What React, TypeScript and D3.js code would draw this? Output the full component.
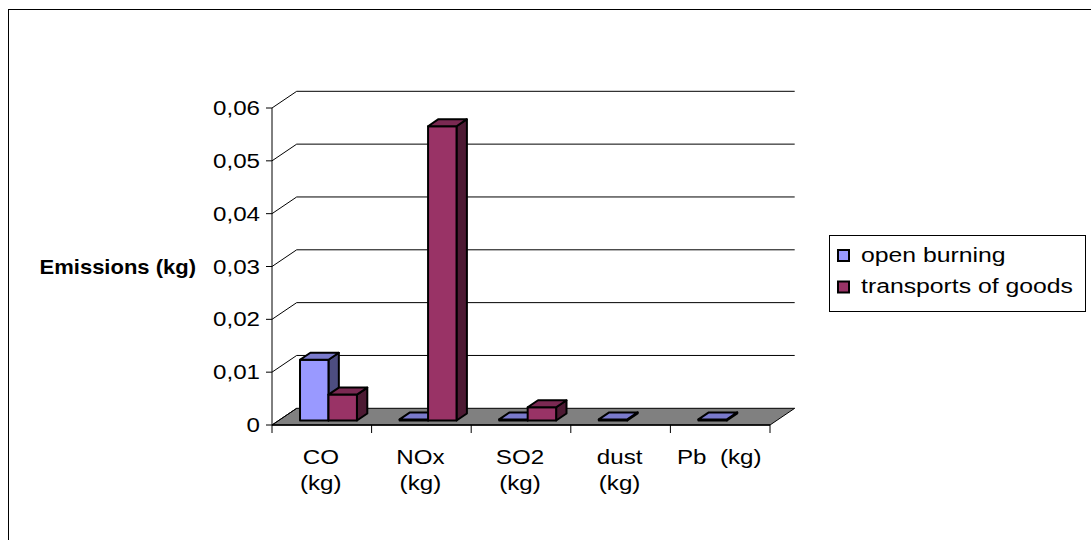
import React from "react";
import * as d3 from "d3";

const categories = ["CO (kg)", "NOx (kg)", "SO2 (kg)", "dust (kg)", "Pb  (kg)"];
const categoryLines = [["CO", "(kg)"], ["NOx", "(kg)"], ["SO2", "(kg)"], ["dust", "(kg)"], ["Pb  (kg)"]];
const seriesNames = ["open burning", "transports of goods"];
const openBurning = [0.0115, 0.0002, 0.0002, 0.0002, 0.0002];
const transportsOfGoods = [0.0049, 0.0557, 0.0025, 0, 0];
const yTickValues = [0, 0.01, 0.02, 0.03, 0.04, 0.05, 0.06];
const yTitle = "Emissions (kg)";

const colors = [
  { front: "#9999FF", top: "#7A7ACC", side: "#4D4D80" },
  { front: "#993366", top: "#7A2952", side: "#4D1A33" },
];

const W = 1091;
const H = 540;
const X0 = 272;
const X1 = 770;
const Y0 = 425;
const Y1 = 108;
const DX = 24.7;
const DY = -16.7;
const F0 = 0.27;
const F1 = 0.69;
const SX = 1.15;
const FS = 21;
const FONT = "'Liberation Sans', Arial, sans-serif";

function pts(p: [number, number][]) {
  return p.map((q) => q.join(",")).join(" ");
}

export default function App() {
  const x = d3.scaleBand<string>().domain(categories).range([X0, X1]).padding(0);
  const y = d3.scaleLinear().domain([0, 0.06]).range([Y0, Y1]);
  const bw = x.bandwidth() / 3.5;
  const series = d3.scaleBand<string>().domain(seriesNames).range([0, bw * 2]);
  const data = [openBurning, transportsOfGoods];
  const fmt = (d: number) => (d === 0 ? "0" : d3.format(".2f")(d).replace(".", ","));

  const bars: React.ReactNode[] = [];
  categories.forEach((c, ci) => {
    data.forEach((vals, si) => {
      const v = vals[ci];
      if (!v) return;
      const xl = (x(c) as number) + bw * 0.75 + (series(seriesNames[si]) as number);
      const xr = xl + bw;
      const yt = y(v);
      const yb = y(0);
      const col = colors[si];
      const front: [number, number][] = [
        [xl + F0 * DX, yb + F0 * DY],
        [xr + F0 * DX, yb + F0 * DY],
        [xr + F0 * DX, yt + F0 * DY],
        [xl + F0 * DX, yt + F0 * DY],
      ];
      const top: [number, number][] = [
        [xl + F0 * DX, yt + F0 * DY],
        [xr + F0 * DX, yt + F0 * DY],
        [xr + F1 * DX, yt + F1 * DY],
        [xl + F1 * DX, yt + F1 * DY],
      ];
      const side: [number, number][] = [
        [xr + F0 * DX, yt + F0 * DY],
        [xr + F1 * DX, yt + F1 * DY],
        [xr + F1 * DX, yb + F1 * DY],
        [xr + F0 * DX, yb + F0 * DY],
      ];
      bars.push(
        <g key={`${ci}-${si}`} stroke="#000" strokeWidth={2} strokeLinejoin="round">
          <polygon points={pts(side)} fill={col.side} />
          <polygon points={pts(front)} fill={col.front} />
          <polygon points={pts(top)} fill={col.top} />
        </g>
      );
    });
  });

  return (
    <svg width={W} height={H} style={{ position: "absolute", left: 0, top: 0 }} fontFamily={FONT}>
      <rect x={0} y={0} width={W} height={H} fill="#fff" />
      <rect x={8.5} y={9.5} width={1200} height={700} fill="#fff" stroke="#000" strokeWidth={1} />
      {/* floor */}
      <polygon
        points={pts([
          [X0, Y0],
          [X1, Y0],
          [X1 + DX, Y0 + DY],
          [X0 + DX, Y0 + DY],
        ])}
        fill="#808080"
        stroke="#000"
        strokeWidth={1}
      />
      {/* gridlines */}
      {yTickValues.map((t) => (
        <g key={t} stroke="#000" strokeWidth={1}>
          <line x1={X0} y1={y(t)} x2={X0 + DX} y2={y(t) + DY} />
          {t > 0 && <line x1={X0 + DX} y1={y(t) + DY} x2={X1 + DX} y2={y(t) + DY} />}
          <line x1={X0 - 6} y1={y(t)} x2={X0} y2={y(t)} />
        </g>
      ))}
      <line x1={X0} y1={y(0.06)} x2={X0} y2={Y0} stroke="#000" strokeWidth={1} />
      {/* x axis */}
      <line x1={X0} y1={Y0} x2={X1} y2={Y0} stroke="#000" strokeWidth={1.5} />
      {categories.map((c) => (
        <line key={c} x1={x(c) as number} y1={Y0} x2={x(c) as number} y2={Y0 + 8} stroke="#000" strokeWidth={1} />
      ))}
      <line x1={X1} y1={Y0} x2={X1} y2={Y0 + 8} stroke="#000" strokeWidth={1} />
      {bars}
      {/* y tick labels */}
      {yTickValues.map((t) => (
        <text key={t} transform={`translate(260,${y(t) + 7}) scale(${SX},1)`} textAnchor="end" fontSize={FS} fill="#000">
          {fmt(t)}
        </text>
      ))}
      {/* x labels */}
      {categories.map((c, ci) => (
        <g key={c}>
          {categoryLines[ci].map((ln, li) => (
            <text
              key={li}
              transform={`translate(${(x(c) as number) + x.bandwidth() / 2 - 1},${464 + li * 26}) scale(${SX},1)`}
              textAnchor="middle"
              fontSize={FS}
              fill="#000"
              style={{ whiteSpace: "pre" }}
            >
              {ln}
            </text>
          ))}
        </g>
      ))}
      {/* y title */}
      <text transform={`translate(196,274) scale(1.1,1)`} textAnchor="end" fontSize={20} fontWeight="bold" fill="#000">
        {yTitle}
      </text>
      {/* legend */}
      <rect x={829.5} y={235.5} width={256} height={76} fill="#fff" stroke="#000" strokeWidth={1} />
      {seriesNames.map((s, si) => (
        <g key={s}>
          <rect x={838} y={250 + si * 31.5} width={11} height={11} fill={colors[si].front} stroke="#000" strokeWidth={2} />
          <text transform={`translate(861,${262 + si * 31}) scale(1.18,1)`} fontSize={FS} fill="#000">
            {s}
          </text>
        </g>
      ))}
    </svg>
  );
}
